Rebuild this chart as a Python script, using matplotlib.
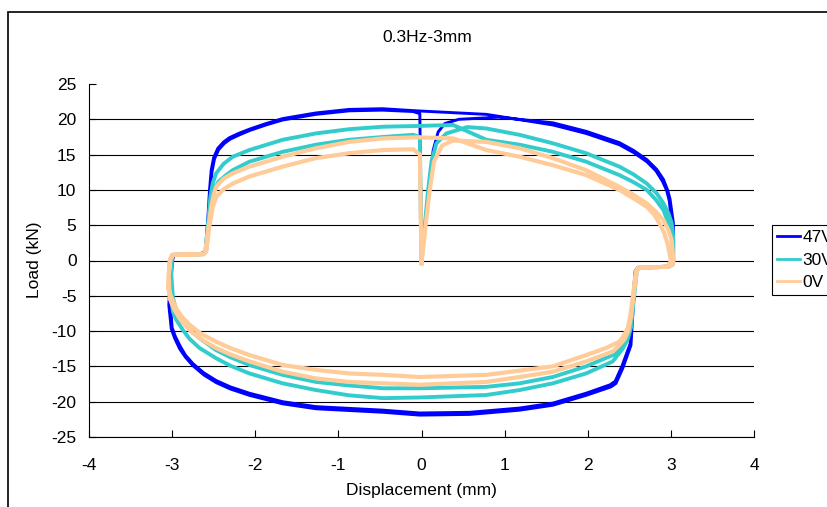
import matplotlib

matplotlib.use("Agg")
import matplotlib.pyplot as plt  # noqa: E402
import numpy as np  # noqa: E402
from matplotlib.patches import Rectangle  # noqa: E402

# (displacement mm, load kN); two laps per series
load_47v = [
    (0.00, -0.3), (0.03, 4.0), (0.07, 8.0), (0.10, 10.9), (0.14, 15.6), (0.20, 18.2),
    (0.28, 19.4), (0.45, 20.0), (0.93, 20.3),
    # lap 1
    (1.58, 19.5), (1.98, 18.3), (2.38, 16.7), (2.55, 15.6), (2.71, 14.3), (2.83, 12.9),
    (2.91, 11.5), (2.96, 10.0), (2.99, 8.7), (3.03, 5.3), (3.03, 1.5), (3.02, -0.4),
    (2.97, -0.9), (2.60, -1.1), (2.58, -1.5), (2.55, -6.0), (2.52, -12.0), (2.42, -15.3),
    (2.34, -17.4), (2.28, -17.9), (1.98, -19.1), (1.58, -20.5), (1.18, -21.2), (0.58, -21.8),
    (-0.02, -21.9), (-0.46, -21.5), (-1.27, -21.0), (-1.67, -20.3), (-2.07, -19.1),
    (-2.30, -18.2), (-2.47, -17.3), (-2.62, -16.2), (-2.75, -14.9), (-2.84, -13.7),
    (-2.91, -12.5), (-2.97, -11.0), (-3.01, -9.7), (-3.04, -6.3), (-3.02, -2.0), (-3.00, 0.3),
    (-2.98, 0.8), (-2.65, 1.0), (-2.60, 1.3), (-2.57, 6.0), (-2.55, 10.0), (-2.53, 12.8),
    (-2.50, 14.6), (-2.45, 15.9), (-2.38, 16.8), (-2.31, 17.4), (-2.20, 18.0), (-2.07, 18.6),
    (-1.87, 19.4), (-1.67, 20.1), (-1.27, 20.9), (-0.87, 21.4), (-0.47, 21.5), (-0.06, 21.2),
    (0.78, 20.7),
    # lap 2
    (1.58, 19.2), (1.98, 18.0), (2.38, 16.4), (2.55, 15.3), (2.71, 14.0), (2.82, 12.7),
    (2.90, 11.2), (2.95, 9.9), (2.98, 8.5), (3.01, 5.3), (3.02, 1.5), (3.01, -0.4),
    (2.96, -0.8), (2.60, -1.0), (2.57, -1.5), (2.54, -6.0), (2.51, -11.8), (2.41, -15.0),
    (2.33, -17.1), (2.27, -17.6), (1.98, -18.8), (1.58, -20.2), (1.18, -20.9), (0.58, -21.5),
    (-0.02, -21.6), (-0.46, -21.2), (-1.27, -20.7), (-1.67, -20.0), (-2.07, -18.8),
    (-2.30, -17.9), (-2.47, -17.0), (-2.62, -15.9), (-2.75, -14.6), (-2.84, -13.4),
    (-2.90, -12.2), (-2.96, -10.8), (-3.00, -9.5), (-3.02, -6.3), (-3.01, -2.0), (-2.99, 0.3),
    (-2.97, 0.8), (-2.64, 0.9), (-2.59, 1.2), (-2.56, 6.0), (-2.54, 10.0), (-2.52, 12.6),
    (-2.49, 14.4), (-2.44, 15.7), (-2.37, 16.6), (-2.30, 17.2), (-2.19, 17.8), (-2.07, 18.4),
    (-1.87, 19.2), (-1.67, 19.9), (-1.27, 20.7), (-0.87, 21.2), (-0.47, 21.3), (-0.10, 21.1),
    (-0.02, 20.8), (-0.01, 10.0), (0.00, -0.3),
]

load_30v = [
    (0.00, -0.3), (0.04, 5.0), (0.08, 10.0), (0.12, 14.0), (0.18, 16.6), (0.30, 18.0),
    (0.55, 18.9),
    # lap 1 (outer edge of band)
    (0.78, 18.7), (1.18, 17.8), (1.58, 16.6), (1.98, 15.2), (2.38, 13.3), (2.55, 12.2),
    (2.71, 10.9), (2.83, 9.5), (2.91, 8.1), (2.97, 6.7), (3.01, 5.3), (3.03, 3.0),
    (3.03, 0.0), (3.02, -0.6), (2.97, -0.9), (2.62, -1.0), (2.59, -1.5), (2.55, -6.0),
    (2.52, -9.5), (2.48, -11.2), (2.42, -12.5), (2.30, -14.3), (1.98, -16.0), (1.58, -17.4),
    (1.18, -18.35), (0.78, -19.05), (-0.02, -19.4), (-0.46, -19.5), (-0.87, -19.1),
    (-1.27, -18.35), (-1.67, -17.4), (-2.07, -16.0), (-2.30, -14.9), (-2.47, -13.85),
    (-2.67, -12.4), (-2.79, -11.1), (-2.87, -9.85), (-2.95, -8.4), (-2.99, -7.25),
    (-3.03, -4.0), (-3.02, 0.0), (-3.00, 0.8), (-2.63, 0.9), (-2.60, 1.3), (-2.57, 5.0),
    (-2.54, 9.0), (-2.51, 11.0), (-2.47, 12.35), (-2.38, 13.7), (-2.27, 14.7),
    (-2.07, 15.65), (-1.67, 17.1), (-1.27, 18.0), (-0.87, 18.6), (-0.46, 18.95),
    (-0.06, 19.05), (0.38, 19.2),
    # lap 2 (inner edge of band)
    (0.78, 17.1), (1.18, 16.4), (1.58, 15.4), (1.98, 14.0), (2.38, 12.1), (2.55, 11.1),
    (2.71, 10.0), (2.82, 8.6), (2.91, 7.15), (3.00, 4.4), (3.02, 1.5), (3.01, -0.5),
    (2.96, -0.9), (2.61, -1.0), (2.58, -1.5), (2.54, -6.0), (2.52, -7.7), (2.49, -9.8),
    (2.44, -11.4), (2.38, -12.4), (2.30, -13.4), (1.98, -15.0), (1.58, -16.5),
    (1.18, -17.4), (0.78, -17.9), (-0.02, -18.1), (-0.46, -18.1), (-0.87, -17.7),
    (-1.27, -17.2), (-1.67, -16.2), (-2.07, -14.8), (-2.30, -13.7), (-2.47, -12.7),
    (-2.67, -11.0), (-2.79, -9.8), (-2.87, -8.7), (-2.95, -7.0), (-2.99, -5.35),
    (-3.01, -2.0), (-3.00, 0.3), (-2.98, 0.8), (-2.62, 0.9), (-2.59, 1.3), (-2.56, 5.0),
    (-2.53, 8.8), (-2.50, 10.0), (-2.44, 11.2), (-2.35, 12.1), (-2.27, 12.8),
    (-2.07, 14.0), (-1.67, 15.4), (-1.27, 16.4), (-0.87, 17.1), (-0.46, 17.5),
    (-0.10, 17.8), (-0.02, 17.5), (-0.01, 8.0), (0.00, -0.3),
]

load_0v = [
    (0.00, -0.4), (0.05, 5.0), (0.10, 10.0), (0.15, 14.0), (0.25, 16.3), (0.38, 17.0),
    # lap 1 (outer edge of band)
    (0.78, 16.8), (1.18, 15.9), (1.58, 14.5), (1.98, 12.8), (2.38, 10.45), (2.55, 9.3),
    (2.71, 8.1), (2.82, 6.9), (2.91, 5.7), (2.97, 4.3), (3.01, 2.9), (3.03, 0.0),
    (3.02, -0.6), (2.97, -0.9), (2.62, -1.0), (2.59, -1.5), (2.55, -5.0), (2.52, -8.0),
    (2.49, -9.9), (2.44, -11.2), (2.37, -12.1), (2.30, -12.9), (1.98, -14.3),
    (1.58, -15.75), (1.18, -16.5), (0.78, -17.2), (-0.02, -17.6), (-0.46, -17.4),
    (-0.87, -17.2), (-1.27, -16.7), (-1.67, -15.75), (-2.07, -14.3), (-2.30, -13.3),
    (-2.47, -12.4), (-2.63, -11.3), (-2.75, -10.3), (-2.84, -9.2), (-2.91, -8.2),
    (-2.98, -6.8), (-3.03, -5.35), (-3.04, -2.0), (-3.02, 0.3), (-3.00, 0.8),
    (-2.63, 0.9), (-2.60, 1.3), (-2.56, 5.0), (-2.53, 7.6), (-2.50, 9.3), (-2.47, 10.45),
    (-2.38, 11.6), (-2.27, 12.35), (-2.07, 13.3), (-1.67, 14.7), (-1.27, 15.9),
    (-0.87, 16.8), (-0.46, 17.3), (-0.06, 17.45), (0.38, 17.3),
    # lap 2 (inner edge of band)
    (0.78, 15.65), (1.18, 14.7), (1.58, 13.5), (1.98, 12.1), (2.38, 10.0), (2.55, 8.8),
    (2.71, 7.6), (2.80, 6.5), (2.86, 5.3), (2.92, 3.9), (2.96, 2.4), (3.00, 0.0),
    (2.98, -0.6), (2.94, -0.9), (2.61, -1.0), (2.58, -1.5), (2.54, -5.35), (2.51, -8.0),
    (2.48, -9.6), (2.43, -10.7), (2.38, -11.5), (2.22, -12.4), (1.98, -13.4),
    (1.58, -15.0), (0.78, -16.2), (-0.02, -16.5), (-0.46, -16.2), (-0.87, -16.0),
    (-1.27, -15.5), (-1.67, -14.8), (-2.07, -13.4), (-2.30, -12.4), (-2.47, -11.5),
    (-2.65, -10.4), (-2.79, -9.1), (-2.88, -8.0), (-2.95, -6.8), (-3.01, -5.2),
    (-3.05, -3.9), (-3.03, 0.0), (-2.99, 0.8), (-2.62, 0.9), (-2.59, 1.3), (-2.55, 5.0),
    (-2.51, 7.6), (-2.47, 9.0), (-2.38, 10.1), (-2.27, 10.9), (-2.07, 11.9),
    (-1.67, 13.3), (-1.27, 14.5), (-0.87, 15.2), (-0.46, 15.65), (-0.10, 15.75),
    (-0.02, 15.0), (-0.01, 7.0), (0.00, -0.4),
]

series_labels = ["47V", "30V", "0V"]
series_colors = ["#0000FF", "#33CCCC", "#FFCC99"]
series_widths = [2.1, 2.8, 3.0]

x_ticks = [-4, -3, -2, -1, 0, 1, 2, 3, 4]
y_ticks = [-25, -20, -15, -10, -5, 0, 5, 10, 15, 20, 25]

plt.rcParams["font.family"] = ["Liberation Sans", "DejaVu Sans"]
plt.rcParams["font.size"] = 12.5
plt.rcParams["axes.unicode_minus"] = False

W, H = 827, 507
fig = plt.figure(figsize=(W / 100, H / 100), dpi=100)
ax = fig.add_axes([89 / W, 1 - 437 / H, (754 - 89) / W, (437 - 84) / H])

for data, label, color, lw in zip([load_47v, load_30v, load_0v], series_labels, series_colors, series_widths):
    arr = np.array(data)
    ax.plot(arr[:, 0], arr[:, 1], color=color, lw=lw, label=label, solid_joinstyle="round")

ax.set_xlim(-4, 4)
ax.set_ylim(-25, 25)
ax.set_xticks(x_ticks)
ax.set_yticks(y_ticks)
ax.set_xticklabels([str(v) for v in x_ticks])
ax.set_yticklabels([str(v) for v in y_ticks])
ax.tick_params(axis="both", direction="in", length=5, width=0.8, color="black")
ax.tick_params(axis="x", pad=15)
ax.tick_params(axis="y", pad=9)
ax.yaxis.grid(True, color="black", lw=0.8)
ax.set_axisbelow(True)
ax.get_ygridlines()[-1].set_visible(False)
for side in ("top", "right"):
    ax.spines[side].set_visible(False)
for side in ("left", "bottom"):
    ax.spines[side].set_color("black")
    ax.spines[side].set_linewidth(0.8)

fig.text(427 / W, 1 - 38 / H, "0.3Hz-3mm", ha="center", va="center")
fig.text(35 / W, 1 - 260 / H, "Load (kN)", ha="center", va="center", rotation=90)
fig.text(421 / W, 1 - 491 / H, "Displacement (mm)", ha="center", va="center")

leg = fig.legend(
    loc="upper left",
    bbox_to_anchor=(772 / W, 1 - 225 / H),
    borderaxespad=0,
    frameon=True,
    fancybox=False,
    edgecolor="black",
    framealpha=1,
    handlelength=1.3,
    handletextpad=0.15,
    labelspacing=0.42,
    borderpad=0.3,
)
leg.get_frame().set_linewidth(0.8)
for line in leg.get_lines():
    line.set_linewidth(2.0)

fig.add_artist(
    Rectangle(
        (7.5 / W, -0.05), 1.2, (1 - 11.5 / H) + 0.05,
        transform=fig.transFigure, fill=False, ec="black", lw=1.2,
    )
)

fig.savefig("out.png", dpi=100)
